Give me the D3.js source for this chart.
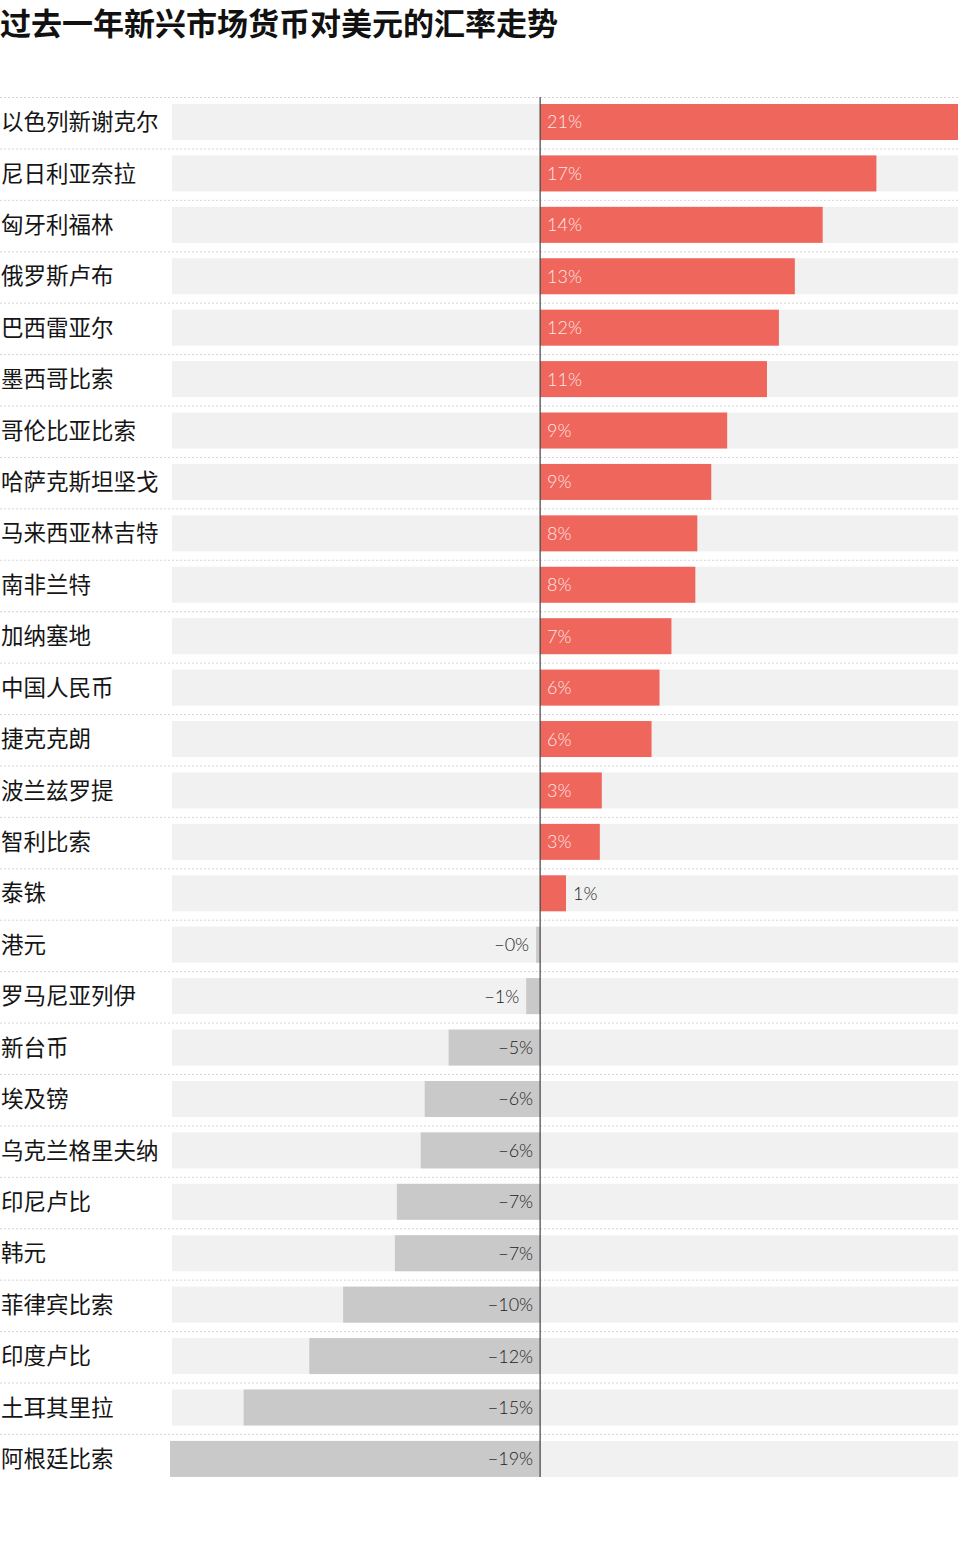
<!DOCTYPE html>
<html>
<head>
<meta charset="utf-8">
<script src="https://cdn.jsdelivr.net/npm/d3@7"></script>
<style>
body { margin: 0; background: #fff; }
svg { display: block; }
</style>
</head>
<body>
<svg width="960" height="1555"></svg>
<script>

var title = '过去一年新兴市场货币对美元的汇率走势';

var currencies = ['以色列新谢克尔','尼日利亚奈拉','匈牙利福林','俄罗斯卢布','巴西雷亚尔','墨西哥比索',
	'哥伦比亚比索','哈萨克斯坦坚戈','马来西亚林吉特','南非兰特','加纳塞地','中国人民币','捷克克朗',
	'波兰兹罗提','智利比索','泰铢','港元','罗马尼亚列伊','新台币','埃及镑','乌克兰格里夫纳','印尼卢比',
	'韩元','菲律宾比索','印度卢比','土耳其里拉','阿根廷比索'];

// change vs USD, %
var changes = [21.0,16.9,14.2,12.8,12.0,11.4,9.4,8.6,7.9,7.8,6.6,6.0,5.6,3.1,3.0,1.3,
	-0.2,-0.7,-4.6,-5.8,-6.0,-7.2,-7.3,-9.9,-11.6,-14.9,-18.6];

var margin = {left:170,right:2,top:97,bottom:78};
var width = 960, height = 1555;
var pos_color = '#ef675c', neg_color = '#c9c9c9', band_color = '#f1f1f1';

var data = currencies.map((c,i) => ({name:c, value:changes[i]}));

var fmt = v => (v < 0 ? '\u2212' : '') + Math.abs(Math.round(v)) + '%';

var svg = d3.select('svg');

svg.append('text')
	.attr('x',0)
	.attr('y',35)
	.style('font-family','"Noto Sans CJK SC"')
	.style('font-weight','bold')
	.style('font-size','31px')
	.attr('fill','#111')
	.text(title);

var xscale = d3.scaleLinear()
	.domain([d3.min(changes),d3.max(changes)])
	.range([margin.left,width-margin.right]);

var step = 51.42;
var yscale = d3.scaleBand()
	.domain(currencies)
	.range([margin.top,margin.top+step*currencies.length]);

var barh = 36, baroff = 7;

var rows = svg.append('g').selectAll('g').data(data)
	.enter()
	.append('g');

// dotted separators
rows.append('line')
	.attr('x1',0)
	.attr('x2',width)
	.attr('y1',d => yscale(d.name)+0.5)
	.attr('y2',d => yscale(d.name)+0.5)
	.attr('stroke','#d6d6d6')
	.attr('stroke-width',1)
	.attr('stroke-dasharray','2,2');

// background bands
rows.append('rect')
	.attr('x',margin.left+2)
	.attr('y',d => yscale(d.name)+baroff)
	.attr('width',width-margin.right-margin.left-2)
	.attr('height',barh)
	.attr('fill',band_color);

rows.append('rect')
	.attr('x',d => xscale(Math.min(0,d.value)))
	.attr('y',d => yscale(d.name)+baroff)
	.attr('width',d => Math.abs(xscale(d.value)-xscale(0)))
	.attr('height',barh)
	.attr('fill',d => d.value >= 0 ? pos_color : neg_color);

rows.append('text')
	.attr('x',1)
	.attr('y',d => yscale(d.name)+baroff+barh/2)
	.attr('dy','0.36em')
	.style('font-family','"Noto Sans CJK SC"')
	.style('font-size','22.5px')
	.attr('fill','#151515')
	.text(d => d.name);

// value labels, inside the bar if it fits
rows.append('text')
	.each(function(d){
		var w = Math.abs(xscale(d.value)-xscale(0));
		var inside = w > 45;
		var t = d3.select(this);
		if (d.value >= 0) {
			t.attr('x', inside ? xscale(0)+7 : xscale(d.value)+7)
				.attr('text-anchor','start')
				.attr('fill', inside ? 'rgba(255,255,255,0.88)' : '#222');
		} else {
			t.attr('x', inside ? xscale(0)-7 : xscale(d.value)-7)
				.attr('text-anchor','end')
				.attr('fill','#222');
		}
	})
	.attr('y',d => yscale(d.name)+baroff+barh/2)
	.attr('dy','0.36em')
	.style('font-family','Lato, "Open Sans", sans-serif')
	.style('font-weight','300')
	.style('font-size','18px')
	.text(d => fmt(d.value));

// zero line
svg.append('line')
	.attr('x1',xscale(0))
	.attr('x2',xscale(0))
	.attr('y1',margin.top)
	.attr('y2',yscale(currencies[currencies.length-1])+baroff+barh)
	.attr('stroke','#444')
	.attr('stroke-width',1.2);

</script>
</body>
</html>
